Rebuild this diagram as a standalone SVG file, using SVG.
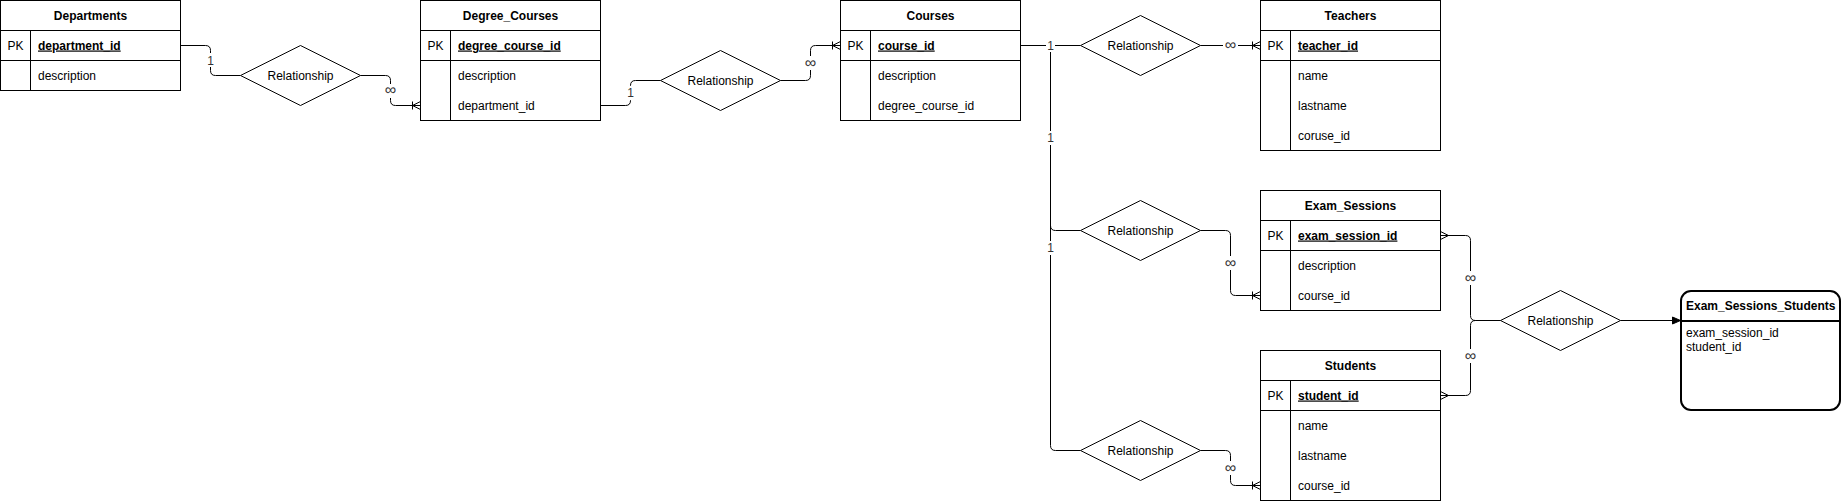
<svg xmlns="http://www.w3.org/2000/svg" width="1842" height="501" viewBox="0 0 1842 501">
<style>
text{font-family:"Liberation Sans",Arial,Helvetica,sans-serif;font-size:12px;fill:#000}
.t{font-weight:bold;text-anchor:middle}
.pk{font-weight:bold;text-decoration:underline}
.c{text-anchor:middle}
.inf{text-anchor:middle;font-size:16px;fill:#333}
.one{text-anchor:middle;fill:#333}
.box{fill:#fff;stroke:#000;stroke-width:1}
.ln{stroke:#000;stroke-width:1;fill:none}
.e{stroke:#000;stroke-width:1;fill:none}
.lb{fill:#fff}
</style>
<defs>
<marker id="oneMany" viewBox="0 0 10 10" markerWidth="10" markerHeight="10" refX="10" refY="5" orient="auto" markerUnits="userSpaceOnUse">
<path d="M2,1 V9 M2,5 L10,1 M2,5 L10,9" fill="none" stroke="#000" stroke-width="1"/>
</marker>
<marker id="many" viewBox="0 0 10 10" markerWidth="10" markerHeight="10" refX="10" refY="5" orient="auto" markerUnits="userSpaceOnUse">
<path d="M2,5 L10,1 M2,5 L10,9" fill="none" stroke="#000" stroke-width="1"/>
</marker>
<marker id="arrow" viewBox="0 0 10 10" markerWidth="10" markerHeight="10" refX="9" refY="5" orient="auto" markerUnits="userSpaceOnUse">
<path d="M1,1.5 L9,5 L1,8.5 Z" fill="#000" stroke="#000" stroke-width="1"/>
</marker>
</defs>
<rect width="1842" height="501" fill="#fff"/>

<g id="connectors">
<path class="e" d="M180.5,45.5 H205.5 Q210.5,45.5 210.5,50.5 V70.5 Q210.5,75.5 215.5,75.5 H240.5"/>
<path class="e" d="M360.5,75.5 H385.5 Q390.5,75.5 390.5,80.5 V100.5 Q390.5,105.5 395.5,105.5 H420.5" marker-end="url(#oneMany)"/>
<path class="e" d="M600.5,105.5 H625.5 Q630.5,105.5 630.5,100.5 V85.5 Q630.5,80.5 635.5,80.5 H660.5"/>
<path class="e" d="M780.5,80.5 H805.5 Q810.5,80.5 810.5,75.5 V50.5 Q810.5,45.5 815.5,45.5 H840.5" marker-end="url(#oneMany)"/>
<path class="e" d="M1020.5,45.5 H1080.5"/>
<path class="e" d="M1200.5,45.5 H1260.5" marker-end="url(#oneMany)"/>
<path class="e" d="M1020.5,45.5 H1050.5 V225.5 Q1050.5,230.5 1055.5,230.5 H1080.5"/>
<path class="e" d="M1020.5,45.5 H1050.5 V445.5 Q1050.5,450.5 1055.5,450.5 H1080.5"/>
<path class="e" d="M1200.5,230.5 H1225.5 Q1230.5,230.5 1230.5,235.5 V290.5 Q1230.5,295.5 1235.5,295.5 H1260.5" marker-end="url(#oneMany)"/>
<path class="e" d="M1200.5,450.5 H1225.5 Q1230.5,450.5 1230.5,455.5 V480.5 Q1230.5,485.5 1235.5,485.5 H1260.5" marker-end="url(#oneMany)"/>
<path class="e" d="M1500.5,320.5 H1475.5 Q1470.5,320.5 1470.5,315.5 V240.5 Q1470.5,235.5 1465.5,235.5 H1440.5" marker-end="url(#many)"/>
<path class="e" d="M1500.5,320.5 H1475.5 Q1470.5,320.5 1470.5,325.5 V390.5 Q1470.5,395.5 1465.5,395.5 H1440.5" marker-end="url(#many)"/>
<path class="e" d="M1620.5,320.5 H1680.5" marker-end="url(#arrow)"/>
<g id="edge-labels">
<rect class="lb" x="206" y="53" width="9" height="14"/><text class="one" x="210.5" y="64.5">1</text>
<rect class="lb" x="383" y="84" width="15" height="14"/><text class="inf" x="390.5" y="95">∞</text>
<rect class="lb" x="626" y="86" width="9" height="14"/><text class="one" x="630.5" y="97">1</text>
<rect class="lb" x="803" y="56" width="15" height="14"/><text class="inf" x="810.5" y="67.5">∞</text>
<rect class="lb" x="1046" y="38" width="9" height="14"/><text class="one" x="1050.5" y="49.5">1</text>
<rect class="lb" x="1223" y="38" width="15" height="14"/><text class="inf" x="1230.5" y="50">∞</text>
<rect class="lb" x="1046" y="131" width="9" height="14"/><text class="one" x="1050.5" y="142">1</text>
<rect class="lb" x="1046" y="241" width="9" height="14"/><text class="one" x="1050.5" y="252">1</text>
<rect class="lb" x="1223" y="256" width="15" height="14"/><text class="inf" x="1230.5" y="267.5">∞</text>
<rect class="lb" x="1223" y="461" width="15" height="14"/><text class="inf" x="1230.5" y="472.5">∞</text>
<rect class="lb" x="1463" y="271" width="15" height="14"/><text class="inf" x="1470.5" y="282.5">∞</text>
<rect class="lb" x="1463" y="349" width="15" height="14"/><text class="inf" x="1470.5" y="360.5">∞</text>
</g>
</g>

<g id="departments">
<rect class="box" x="0.5" y="0.5" width="180" height="90"/>
<path class="ln" d="M0.5,30.5 H180.5 M0.5,60.5 H180.5 M30.5,30.5 V90.5"/>
<text class="t" x="90.5" y="19.5">Departments</text>
<text class="c" x="15.5" y="49.5">PK</text>
<text class="pk" x="38" y="49.5">department_id</text>
<text x="38" y="79.5">description</text>
</g>

<g id="degree_courses">
<rect class="box" x="420.5" y="0.5" width="180" height="120"/>
<path class="ln" d="M420.5,30.5 H600.5 M420.5,60.5 H600.5 M450.5,30.5 V120.5"/>
<text class="t" x="510.5" y="19.5">Degree_Courses</text>
<text class="c" x="435.5" y="49.5">PK</text>
<text class="pk" x="458" y="49.5">degree_course_id</text>
<text x="458" y="79.5">description</text>
<text x="458" y="109.5">department_id</text>
</g>

<g id="courses">
<rect class="box" x="840.5" y="0.5" width="180" height="120"/>
<path class="ln" d="M840.5,30.5 H1020.5 M840.5,60.5 H1020.5 M870.5,30.5 V120.5"/>
<text class="t" x="930.5" y="19.5">Courses</text>
<text class="c" x="855.5" y="49.5">PK</text>
<text class="pk" x="878" y="49.5">course_id</text>
<text x="878" y="79.5">description</text>
<text x="878" y="109.5">degree_course_id</text>
</g>

<g id="teachers">
<rect class="box" x="1260.5" y="0.5" width="180" height="150"/>
<path class="ln" d="M1260.5,30.5 H1440.5 M1260.5,60.5 H1440.5 M1290.5,30.5 V150.5"/>
<text class="t" x="1350.5" y="19.5">Teachers</text>
<text class="c" x="1275.5" y="49.5">PK</text>
<text class="pk" x="1298" y="49.5">teacher_id</text>
<text x="1298" y="79.5">name</text>
<text x="1298" y="109.5">lastname</text>
<text x="1298" y="139.5">coruse_id</text>
</g>

<g id="exam_sessions">
<rect class="box" x="1260.5" y="190.5" width="180" height="120"/>
<path class="ln" d="M1260.5,220.5 H1440.5 M1260.5,250.5 H1440.5 M1290.5,220.5 V310.5"/>
<text class="t" x="1350.5" y="209.5">Exam_Sessions</text>
<text class="c" x="1275.5" y="239.5">PK</text>
<text class="pk" x="1298" y="239.5">exam_session_id</text>
<text x="1298" y="269.5">description</text>
<text x="1298" y="299.5">course_id</text>
</g>

<g id="students">
<rect class="box" x="1260.5" y="350.5" width="180" height="150"/>
<path class="ln" d="M1260.5,380.5 H1440.5 M1260.5,410.5 H1440.5 M1290.5,380.5 V500.5"/>
<text class="t" x="1350.5" y="369.5">Students</text>
<text class="c" x="1275.5" y="399.5">PK</text>
<text class="pk" x="1298" y="399.5">student_id</text>
<text x="1298" y="429.5">name</text>
<text x="1298" y="459.5">lastname</text>
<text x="1298" y="489.5">course_id</text>
</g>

<g id="exam_sessions_students">
<rect x="1681" y="291" width="159" height="119" rx="10" ry="10" fill="#fff" stroke="#000" stroke-width="2"/>
<path d="M1681,321 H1840" stroke="#000" stroke-width="2" fill="none"/>
<text x="1686" y="309.5" font-weight="bold">Exam_Sessions_Students</text>
<text x="1686" y="337">exam_session_id</text>
<text x="1686" y="351">student_id</text>
</g>

<g id="rel1"><path class="box" d="M240.5,75.5 L300.5,45.5 L360.5,75.5 L300.5,105.5 Z"/><text class="c" x="300.5" y="79.5">Relationship</text></g>
<g id="rel2"><path class="box" d="M660.5,80.5 L720.5,50.5 L780.5,80.5 L720.5,110.5 Z"/><text class="c" x="720.5" y="84.5">Relationship</text></g>
<g id="rel3"><path class="box" d="M1080.5,45.5 L1140.5,15.5 L1200.5,45.5 L1140.5,75.5 Z"/><text class="c" x="1140.5" y="49.5">Relationship</text></g>
<g id="rel4"><path class="box" d="M1080.5,230.5 L1140.5,200.5 L1200.5,230.5 L1140.5,260.5 Z"/><text class="c" x="1140.5" y="234.5">Relationship</text></g>
<g id="rel5"><path class="box" d="M1080.5,450.5 L1140.5,420.5 L1200.5,450.5 L1140.5,480.5 Z"/><text class="c" x="1140.5" y="454.5">Relationship</text></g>
<g id="rel6"><path class="box" d="M1500.5,320.5 L1560.5,290.5 L1620.5,320.5 L1560.5,350.5 Z"/><text class="c" x="1560.5" y="324.5">Relationship</text></g>
</svg>
